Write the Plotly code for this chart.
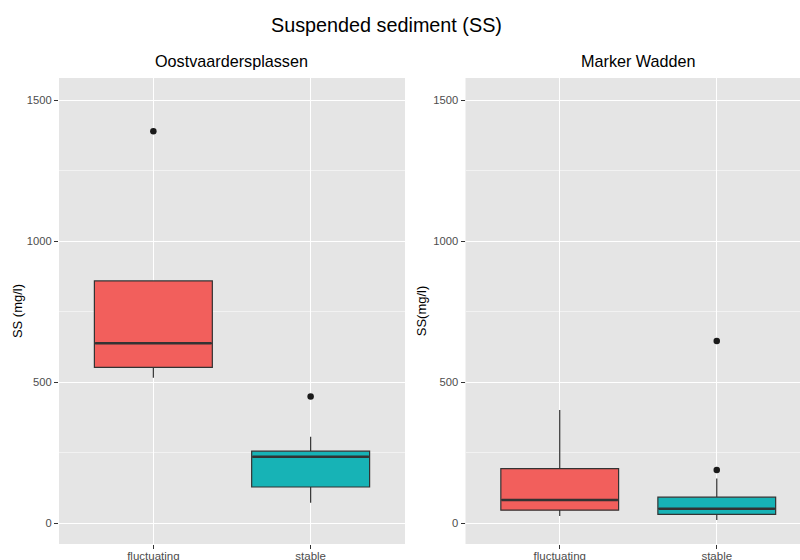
import plotly.graph_objects as go

categories = ["fluctuating", "stable"]
fill_colors = ["#F25F5C", "#17B3B6"]

# Oostvaardersplassen box stats
ovp_lower = [516, 73]
ovp_q1 = [553, 129]
ovp_median = [638, 236]
ovp_q3 = [859, 256]
ovp_upper = [859, 307]
ovp_outliers = [[1389], [450]]

# Marker Wadden box stats
mw_lower = [26, 12]
mw_q1 = [47, 32]
mw_median = [83, 52]
mw_q3 = [194, 93]
mw_upper = [402, 159]
mw_outliers = [[], [646, 189]]

yticks = [0, 500, 1000, 1500]
BOX_W = 0.75

fig = go.Figure()

def add_panel(xa, ya, lower, q1, med, q3, upper, outl):
    for i, cat in enumerate(categories):
        x = i + 1
        fig.add_trace(go.Box(
            x=[x], q1=[q1[i]], median=[med[i]], q3=[q3[i]],
            lowerfence=[lower[i]], upperfence=[upper[i]],
            width=BOX_W, whiskerwidth=0, fillcolor=fill_colors[i],
            line=dict(color="#333333", width=1.2), boxpoints=False,
            xaxis=xa, yaxis=ya, showlegend=False, hoverinfo="skip"))
        fig.add_trace(go.Scatter(
            x=[x - BOX_W / 2 + 0.005, x + BOX_W / 2 - 0.005], y=[med[i], med[i]],
            mode="lines", line=dict(color="#333333", width=2.5),
            xaxis=xa, yaxis=ya, showlegend=False, hoverinfo="skip"))
        if outl[i]:
            fig.add_trace(go.Scatter(
                x=[x] * len(outl[i]), y=outl[i], mode="markers",
                marker=dict(color="#1a1a1a", size=6.5),
                xaxis=xa, yaxis=ya, showlegend=False, hoverinfo="skip"))

add_panel("x", "y", ovp_lower, ovp_q1, ovp_median, ovp_q3, ovp_upper, ovp_outliers)
add_panel("x2", "y2", mw_lower, mw_q1, mw_median, mw_q3, mw_upper, mw_outliers)

W, H = 800, 560
yr = [-73, 1578]
common_x = dict(tickvals=[1, 2], ticktext=categories, showgrid=True, gridcolor="white",
                gridwidth=1.1, zeroline=False, ticks="outside", ticklen=4, tickcolor="#333333",
                tickfont=dict(family="Liberation Sans, Arial", size=11.5, color="#4D4D4D"),
                ticklabelstandoff=-3,
                showline=False, automargin=False)
common_y = dict(range=yr, tickvals=yticks, showgrid=True, gridcolor="white", gridwidth=1.1,
                zeroline=False, ticks="outside", ticklen=4, tickcolor="#333333",
                tickfont=dict(family="Liberation Sans, Arial", size=11.2, color="#4D4D4D"),
                minor=dict(tickvals=[250, 750, 1250], showgrid=True, gridcolor="#F2F2F2", gridwidth=0.6),
                showline=False, automargin=False)

fig.update_layout(
    width=W, height=H,
    margin=dict(l=0, r=0, t=78, b=16),
    paper_bgcolor="white", plot_bgcolor="#E5E5E5",
    font=dict(family="Liberation Sans, Arial", color="black"),
    xaxis=dict(common_x, domain=[59 / W, 405 / W], range=[0.4, 2.6], anchor="y"),
    yaxis=dict(common_y, anchor="x",
               title=dict(text="SS (mg/l)", font=dict(size=13), standoff=1)),
    xaxis2=dict(common_x, domain=[465.5 / W, 1.0], range=[0.4, 2.6 - 11 / 157.3], anchor="y2"),
    yaxis2=dict(common_y, anchor="x2",
                title=dict(text="SS(mg/l)", font=dict(size=13), standoff=3.5)),
    annotations=[
        dict(text="Suspended sediment (SS)", x=386 / W, y=1.12, xref="paper", yref="paper",
             showarrow=False, font=dict(size=19.8, color="black"), xanchor="center", yanchor="middle"),
        dict(text="Oostvaardersplassen", x=232 / W, y=1, xref="paper", yref="paper",
             showarrow=False, font=dict(size=16.2, color="black"), xanchor="center", yanchor="bottom", yshift=6),
        dict(text="Marker Wadden", x=638 / W, y=1, xref="paper", yref="paper",
             showarrow=False, font=dict(size=16.2, color="black"), xanchor="center", yanchor="bottom", yshift=6),
    ],
)
# Title y in paper coords: pixel 25 from top
plot_h = H - 78 - 16
fig.layout.annotations[0].y = 1 + (78 - 25) / plot_h

fig.write_html("out.html")
